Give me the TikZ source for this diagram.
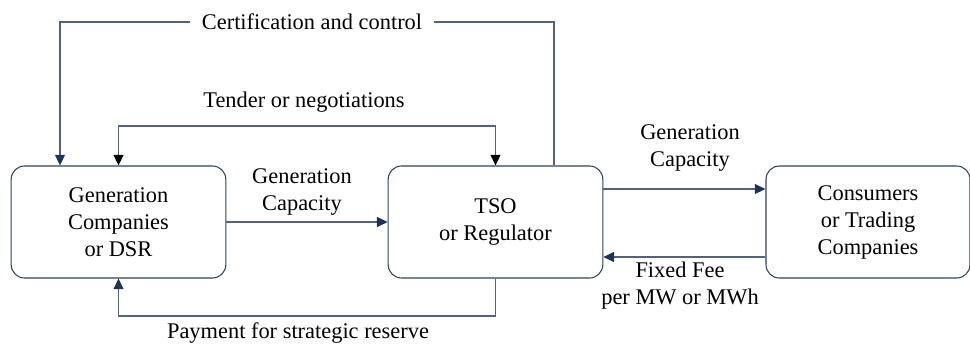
\documentclass[tikz,border=0pt]{standalone}
\usepackage{fontspec}
\setmainfont{Liberation Serif}
\newfontfamily\diagfont{Liberation Serif}
\usetikzlibrary{arrows.meta}
\definecolor{lineclr}{RGB}{84,98,122}
\definecolor{boxclr}{RGB}{47,66,94}
\definecolor{headclr}{RGB}{28,52,92}
\tikzset{
    party/.style={draw=boxclr, thick, rounded corners=10pt, align=center, minimum height=84pt},
    conn/.style={draw=lineclr, thick},
    lbl/.style={align=center},
    tip/.style={-{Triangle[length=8pt,width=7.5pt,color=headclr]}},
    blacktip/.style={{Triangle[length=8pt,width=7.5pt,color=black]}-{Triangle[length=8pt,width=7.5pt,color=black]}}
}
\begin{document}
\begin{tikzpicture}[x=0.75pt,y=-0.75pt,font=\diagfont\fontsize{16.8}{20.25}\selectfont]
        \useasboundingbox (0,0) rectangle (970,347);
        %the three parties
        \node[party, minimum width=161pt] (gen) at (118.5,222) {Generation\\Companies\\or DSR};
        \node[party, minimum width=161pt] (tso) at (495.5,222) {TSO\\or Regulator};
        \node[party, minimum width=153pt] (cons) at (868,222) {Consumers\\or Trading\\Companies};
    
        %corners of the outer connectors
        \coordinate (cert) at (312,22);
        \coordinate (tender) at (304,126);
        \coordinate (pay) at (304,316);
        
        \draw[conn, tip] ([xshift=58.5*0.75pt]tso.north) |- (cert) -| ([xshift=-58.5*0.75pt]gen.north);
        \node[lbl, fill=white, inner xsep=9pt] (certlbl) at (cert) {Certification and control};
        
        \draw[conn, blacktip] (gen.north) |- (tender) -| (tso.north);
        \node[lbl, above=7pt] (tenderlbl) at (tender) {Tender or negotiations};
        
        \draw[conn, tip] (gen.east) -- (tso.west);
        \node[lbl] (capA) at (302,192) {Generation\\Capacity};
        
        \draw[conn, tip] ([yshift=33*0.75pt]tso.east) -- ([yshift=33*0.75pt]cons.west);
        \node[lbl] (capB) at (690,148) {Generation\\Capacity};
        
        \draw[conn, tip] ([yshift=-35*0.75pt]cons.west) -- ([yshift=-35*0.75pt]tso.east);
        \node[lbl] (fee) at (680,286) {Fixed Fee\\per MW or MWh};
        
        \draw[conn, tip] (tso.south) |- (pay) -| (gen.south);
        \node[lbl] (paylbl) at (298,333) {Payment for strategic reserve};
    \end{tikzpicture}
\end{document}
